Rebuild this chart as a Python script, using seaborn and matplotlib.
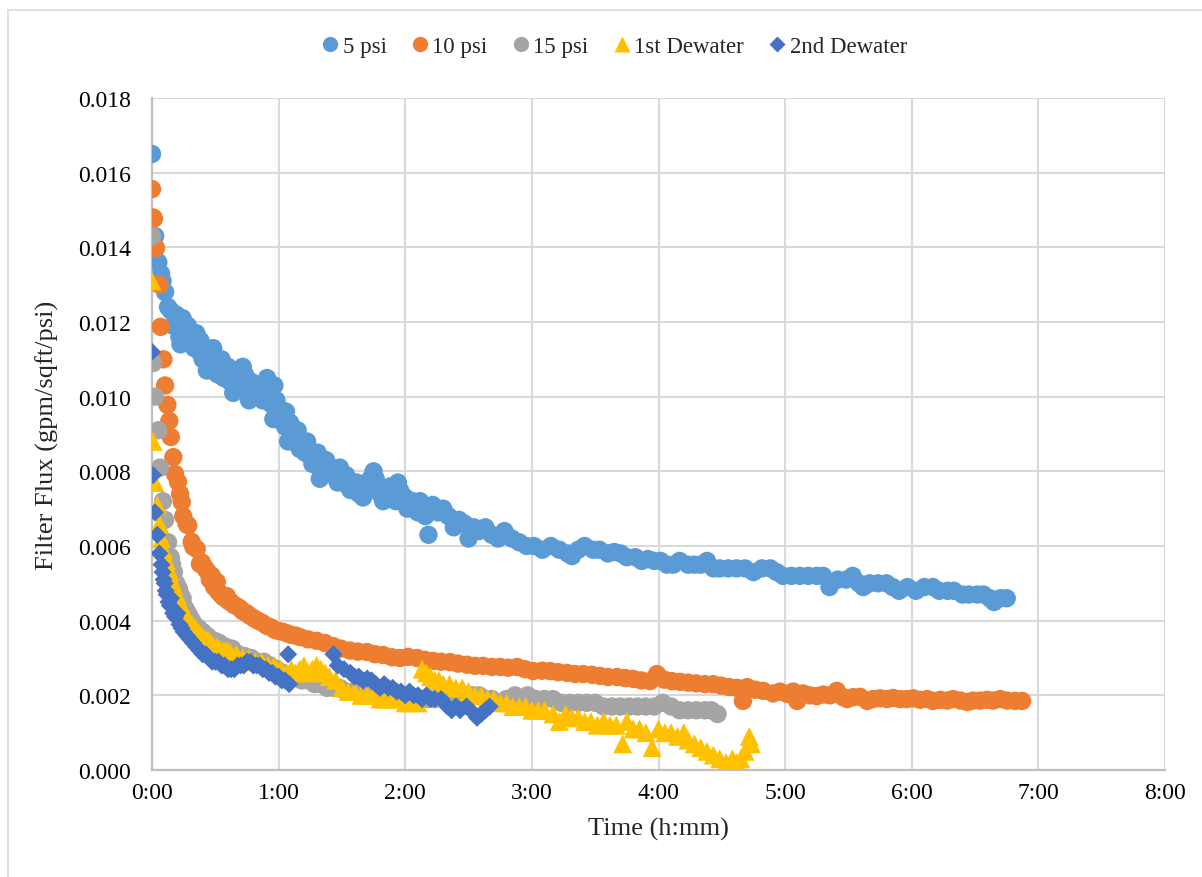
import matplotlib
matplotlib.use("Agg")
import matplotlib.pyplot as plt
import seaborn as sns
import pandas as pd
from matplotlib.ticker import FuncFormatter, MultipleLocator
from matplotlib.lines import Line2D

# ---------------- data (time in minutes, flux in gpm/sqft/psi) ----------------
psi5_t = [0.0, 0.5, 1.5, 3.0, 4.3, 5.0, 6.2, 7.6, 9.0, 10.0, 11.5, 13.0, 13.5, 15.0, 17.0, 19.0,
          22.5, 24.0, 26.0, 28.0, 30.0, 32.0, 34.0, 36.0, 38.5, 40.0, 42.0, 44.0, 46.0, 48.0, 50.0,
          52.5, 54.5, 56.5, 57.5, 59.0, 61.0, 63.0, 64.5, 66.5, 68.5, 70.0, 72.5, 75.0, 77.5, 79.5,
          81.5, 83.5, 86.0, 88.0, 90.5, 93.0, 95.5, 98.0, 100.0, 102.5, 105.0, 107.0, 109.5, 112.0,
          114.5, 116.5, 118.5, 121.0, 123.5, 126.0, 128.0, 131.0, 133.0, 135.5, 138.0, 140.5, 143.0,
          145.5, 148.0, 150.0, 152.5, 155.0, 158.0, 161.0, 164.0, 167.0, 170.5, 174.0, 177.5, 181.0,
          185, 189, 193, 197, 199, 202, 205, 209, 212, 216, 219, 222, 225, 229, 232, 235, 238, 241,
          244, 247, 250, 254, 257, 260, 263, 266, 269, 273, 277, 281, 285, 289, 293, 296, 299, 303,
          307, 311, 315, 318, 321, 325, 329, 332, 335, 337, 340, 344, 348, 351, 354, 358, 362, 366,
          370, 373, 377, 380, 384, 387, 391, 394, 397, 399, 402, 405,
          12, 14.5, 16, 18, 20, 21, 23, 25, 27, 29, 31, 33, 35, 37, 39, 41, 43, 45, 47, 49, 51, 53,
          55, 58, 60, 62, 63.5, 65.5, 67.5, 69, 71, 73.5, 76, 78.5, 80.5, 82.5, 85, 87, 89, 92, 94,
          97, 99, 101, 103.5, 106, 108, 111, 113, 115.5, 117.5, 120, 122, 125, 127, 129.5]
psi5_v = [0.0165, 0.0140, 0.0143, 0.0136, 0.0133, 0.0131, 0.0128, 0.0124, 0.0123, 0.0119, 0.0122,
          0.0116, 0.0114, 0.0118, 0.0119, 0.0115, 0.0112, 0.0110, 0.0107, 0.0111, 0.0109, 0.0107,
          0.0105, 0.0108, 0.0101, 0.0106, 0.0104, 0.0106, 0.0099, 0.0103, 0.0101, 0.0099, 0.0105,
          0.0098, 0.0094, 0.0099, 0.0096, 0.0092, 0.0088, 0.0090, 0.0088, 0.0086, 0.0085, 0.0084,
          0.0082, 0.0078, 0.0082, 0.0080, 0.0079, 0.0077, 0.0078, 0.0076, 0.0077, 0.0074, 0.0073,
          0.0077, 0.0080, 0.0076, 0.0072, 0.0075, 0.0074, 0.0077, 0.0072, 0.0070, 0.0072, 0.0069,
          0.0070, 0.0063, 0.0071, 0.0069, 0.0070, 0.0068, 0.0065, 0.0067, 0.0066, 0.0062, 0.0065,
          0.0064, 0.0065, 0.0063, 0.0062, 0.0064, 0.0062, 0.0061, 0.0060, 0.0060,
          0.0059, 0.0060, 0.0059, 0.0058, 0.00573, 0.0059, 0.0060, 0.0059, 0.0059, 0.0058, 0.00584,
          0.0058, 0.0057, 0.0057, 0.0056, 0.00565, 0.0056, 0.0056, 0.0055, 0.0055, 0.0056, 0.0055,
          0.0055, 0.0055, 0.0056, 0.0054, 0.0054, 0.0054, 0.0054, 0.0054, 0.0053, 0.0054, 0.0054,
          0.0053, 0.0052, 0.0052, 0.0052, 0.0052, 0.0052, 0.0052, 0.0049, 0.0051, 0.0051, 0.0052,
          0.0050, 0.0049, 0.0050, 0.0050, 0.0050, 0.0049, 0.0048, 0.0049, 0.0048, 0.0049, 0.0049,
          0.0048, 0.0048, 0.0048, 0.0047, 0.0047, 0.0047, 0.0047, 0.0046, 0.0045, 0.0046, 0.0046,
          0.0120, 0.0121, 0.0116, 0.0117, 0.0113, 0.0117, 0.0115, 0.0113, 0.0108, 0.0113, 0.0106,
          0.0110, 0.0108, 0.0104, 0.0107, 0.0102, 0.0108, 0.0102, 0.0104, 0.0100, 0.0103, 0.0102,
          0.0100, 0.0103, 0.0097, 0.0094, 0.0096, 0.0093, 0.0089, 0.0091, 0.0087, 0.0088, 0.0082,
          0.0085, 0.0081, 0.0083, 0.0081, 0.0079, 0.0081, 0.0079, 0.0075, 0.0077, 0.0076, 0.0075,
          0.0078, 0.0078, 0.0074, 0.0073, 0.0076, 0.0072, 0.0075, 0.0073, 0.0071, 0.0071, 0.0072,
          0.0068]

psi10_t = [0.0, 0.5, 0.9, 1.9, 3.5, 4.1, 5.4, 6.2, 7.3, 8.2, 8.9, 10.1, 10.9, 12.3, 13.3, 14.1, 14.8,
           16.4, 17.2, 18.8, 19.6, 21.2, 22.7, 24.6, 26.5, 28.4, 30.7, 31.5, 32.7, 35.4, 37.4, 40.1,
           43.1, 46.4, 50.2, 54.4, 58.3, 62.1, 65.9, 70.1, 73.9, 78.0, 82.0, 85.8, 89.6, 93.8, 97.6,
           101.9, 105.7, 109.5, 113.7, 117.5, 121.3, 125.6, 129.4, 133.2, 137.0, 141.2, 145.0, 149.3,
           153.1, 156.9, 161.1, 165.0, 168.7, 173.0, 176.8, 180.6, 184.8, 188.6, 192.4, 196.7, 200.5,
           204.3, 208.5, 212.3, 216.1, 220.4, 224.2, 228.0, 231.8, 236.0, 239.3, 242.7, 246.4, 250.2,
           254.0, 257.8, 262.0, 265.9, 269.7, 273.5, 277.3, 280.0, 282.0, 285.8, 289.6, 294.3, 297.6,
           301.0, 303.8, 305.7, 308.5, 311.8, 315.0, 318.0, 321.3, 324.5, 327.5, 329.4, 332.2, 335.5,
           338.9, 341.7, 345.0, 348.3, 351.2, 354.5, 357.8, 360.7, 364.0, 367.3, 370.1, 373.5, 376.8,
           379.6, 383.0, 386.3, 389.0, 392.4, 395.7, 398.6, 401.9, 405.2, 409.0, 412.3,
           23.6, 25.5, 27.4, 29.5, 34.0, 36.4, 38.8, 41.6, 44.8, 48.3, 52.3, 56.4, 60.2, 64.0, 68.0]
psi10_v = [0.01556, 0.0148, 0.01477, 0.01398, 0.0130, 0.01187, 0.0110, 0.0103, 0.00978, 0.00935,
           0.00892, 0.00838, 0.00793, 0.00772, 0.0074, 0.00718, 0.0068, 0.00659, 0.00655, 0.00611,
           0.00598, 0.00592, 0.00552, 0.00545, 0.0053, 0.0052, 0.00504, 0.00477, 0.0047, 0.00466,
           0.0045, 0.00439, 0.00425, 0.00413, 0.0040, 0.00386, 0.00375, 0.0037, 0.00362, 0.00356,
           0.0035, 0.00346, 0.0034, 0.00332, 0.00325, 0.0032, 0.00317, 0.00316, 0.0031, 0.00308,
           0.00302, 0.0030, 0.00303, 0.0030, 0.00295, 0.00292, 0.0029, 0.00289, 0.00285, 0.00282,
           0.00279, 0.00279, 0.00276, 0.00276, 0.00274, 0.00276, 0.0027, 0.00265, 0.00266, 0.00265,
           0.00262, 0.0026, 0.00257, 0.00257, 0.00255, 0.00252, 0.00249, 0.00249, 0.00246, 0.00244,
           0.0024, 0.00238, 0.00257, 0.00242, 0.00238, 0.00236, 0.00234, 0.00232, 0.0023, 0.0023,
           0.00226, 0.00222, 0.0022, 0.00185, 0.00222, 0.00215, 0.00212, 0.00205, 0.0021, 0.00204,
           0.0021, 0.00185, 0.00205, 0.0020, 0.00198, 0.00202, 0.0020, 0.00212, 0.00195, 0.0019,
           0.00195, 0.00196, 0.00185, 0.0019, 0.00192, 0.0019, 0.00193, 0.0019, 0.0019, 0.00192,
           0.00188, 0.0019, 0.00185, 0.00188, 0.00186, 0.0019, 0.00186, 0.00182, 0.00186, 0.00186,
           0.00188, 0.00186, 0.0019, 0.00186, 0.00185, 0.00185,
           0.00556, 0.00538, 0.00510, 0.00490, 0.00462, 0.00452, 0.00442, 0.00433, 0.00420, 0.00406,
           0.00394, 0.00382, 0.00372, 0.00366, 0.00360]

psi15_t = [0.0, 0.5, 1.4, 3.0, 3.8, 5.2, 6.2, 7.6, 8.9, 10.4, 12.8, 14.5, 16, 18, 20, 22, 24, 26, 28,
           30, 32, 35, 38, 41, 44, 47, 50, 53, 56, 59, 62, 65, 68, 71, 74, 77, 80, 83, 86, 89, 92, 95,
           98, 101, 104, 107, 110, 113, 116, 119, 122, 125, 128, 131, 134, 137, 140, 143, 146, 149,
           152, 155, 158, 161, 165, 168, 172, 175, 178, 182, 186, 190, 194, 198, 202, 206, 210, 214,
           218, 222, 226, 230, 234, 238, 242, 246, 250, 254, 258, 262, 265, 268,
           9.5, 11.5, 13.5, 15, 17, 19, 21, 23, 25, 27, 29, 33.5, 36.5, 39.5, 42.5, 45.5]
psi15_v = [0.0143, 0.0109, 0.0100, 0.0091, 0.0081, 0.0072, 0.0067, 0.0061, 0.0057, 0.0053, 0.00485,
           0.0046, 0.0043, 0.0041, 0.0039, 0.0038, 0.0037, 0.0036, 0.0035, 0.00345, 0.0034, 0.0033,
           0.00325, 0.0031, 0.00305, 0.0030, 0.0029, 0.0029, 0.0028, 0.0027, 0.0026, 0.0025, 0.0025,
           0.0024, 0.0024, 0.0023, 0.0023, 0.0022, 0.0022, 0.0022, 0.0021, 0.0021, 0.0021, 0.0020,
           0.0020, 0.0020, 0.0020, 0.0019, 0.0019, 0.0019, 0.0019, 0.0018, 0.0019, 0.0019, 0.0019,
           0.0020, 0.0020, 0.0019, 0.0019, 0.0020, 0.0020, 0.0020, 0.0019, 0.0019, 0.0018, 0.0019,
           0.0020, 0.0019, 0.0020, 0.0019, 0.0019, 0.0019, 0.0018, 0.0018, 0.0018, 0.0018, 0.0018,
           0.0017, 0.0017, 0.0017, 0.0017, 0.0017, 0.0017, 0.0017, 0.0018, 0.0017, 0.0016, 0.0016,
           0.0016, 0.0016, 0.0016, 0.0015,
           0.0055, 0.0050, 0.0047, 0.0044, 0.0042, 0.0040, 0.0038, 0.0037, 0.0035, 0.0035, 0.0034,
           0.0033, 0.0032, 0.0031, 0.0030, 0.0030]

dew1_t = [0.0, 0.5, 1.4, 2.5, 3.5, 4.5, 5.5, 7, 8.5, 10, 12, 14, 16.5, 19, 22, 25, 28, 31, 34, 37,
          40, 43, 46, 49, 52, 55, 58, 61, 64, 66, 68, 70, 72, 74, 76, 78, 80, 82, 84, 87, 90, 93, 96,
          99, 102, 105, 108, 111, 114, 117, 120, 123, 126, 128, 130, 132, 134, 136, 138, 141, 144,
          147, 150, 153, 156, 159, 162, 165, 168, 171, 174, 177, 180, 183, 186, 190, 193, 196, 199,
          202, 205, 208, 211, 214, 217, 220, 223, 225, 228, 231, 234, 237, 240, 243, 246, 249, 252,
          254, 257, 260, 263, 266, 269, 272, 275, 277, 279, 281, 283, 284,
          6, 7.8, 9.2, 11, 13, 15, 17.5, 20.5, 23.5, 26.5, 29.5, 32.5, 35.5]
dew1_v = [0.0131, 0.0088, 0.0077, 0.0071, 0.0066, 0.0062, 0.0059, 0.0056, 0.0053, 0.0050, 0.0047,
          0.0044, 0.0041, 0.0039, 0.0037, 0.0035, 0.0034, 0.0033, 0.0032, 0.00315, 0.0031, 0.0030,
          0.0030, 0.0029, 0.0029, 0.0028, 0.0028, 0.0027, 0.0026, 0.0027, 0.0026, 0.0027, 0.0028,
          0.0026, 0.0027, 0.0028, 0.0027, 0.0026, 0.0025, 0.0024, 0.0022, 0.0021, 0.0021, 0.0020,
          0.0020, 0.0020, 0.0019, 0.0019, 0.0019, 0.0019, 0.0018, 0.0018, 0.0018, 0.0027, 0.0026,
          0.0025, 0.0024, 0.0024, 0.0023, 0.0023, 0.0022, 0.0022, 0.0021, 0.0020, 0.0020, 0.0019,
          0.0019, 0.0018, 0.0018, 0.0017, 0.0017, 0.0017, 0.0016, 0.0016, 0.0016, 0.0015, 0.0013,
          0.0015, 0.0014, 0.0014, 0.0013, 0.0013, 0.0012, 0.0013, 0.0012, 0.0012, 0.0007, 0.0013,
          0.0011, 0.0011, 0.0010, 0.0006, 0.0011, 0.0010, 0.0010, 0.0009, 0.0010, 0.0008, 0.0007,
          0.0006, 0.0005, 0.0004, 0.0003, 0.0002, 0.0003, 0.0002, 0.0003, 0.0005, 0.0009, 0.0007,
          0.0057, 0.0054, 0.0051, 0.0048, 0.0045, 0.0043, 0.0040, 0.0038, 0.0036, 0.0035, 0.0033,
          0.0032, 0.0032]

dew2_t = [0.0, 0.5, 1.4, 2.5, 3.5, 4.5, 5.5, 6.5, 7.8, 10, 13, 15, 18, 21, 24, 27, 30, 33, 36, 39,
          42, 45, 48, 51, 54, 57, 60, 63, 64.5, 65, 86, 88, 91, 94, 98, 102, 106, 110, 114, 118, 122,
          126, 130, 134, 137, 140, 142, 144, 146, 149, 151, 154, 156, 158, 160,
          5, 6, 7, 8.5, 9, 11, 12, 14, 16.5, 19.5, 22.5, 25.5, 28.5, 31.5, 34.5, 37.5, 40.5, 43.5,
          46.5, 49.5, 52.5, 55.5, 58.5, 61.5, 96, 100, 104, 108, 112, 116, 120, 124, 128, 132]
dew2_v = [0.0112, 0.0079, 0.0069, 0.0063, 0.0058, 0.0055, 0.0051, 0.0048, 0.0045, 0.0042, 0.0039,
          0.0037, 0.0035, 0.0033, 0.0031, 0.0030, 0.0029, 0.0028, 0.0027, 0.0027, 0.0028, 0.0029,
          0.0028, 0.0028, 0.0027, 0.0026, 0.0025, 0.0024, 0.0031, 0.0023, 0.0031, 0.0028, 0.0027,
          0.0026, 0.0025, 0.00245, 0.0023, 0.0023, 0.0022, 0.0021, 0.0021, 0.0020, 0.0020, 0.0019,
          0.0019, 0.0017, 0.0016, 0.0017, 0.0016, 0.0017, 0.0016, 0.0014, 0.0015, 0.0016, 0.0017,
          0.0053, 0.0050, 0.0047, 0.0044, 0.0046, 0.0041, 0.0042, 0.0038, 0.0036, 0.0034, 0.0032,
          0.0031, 0.0029, 0.0029, 0.0028, 0.0027, 0.0028, 0.0028, 0.0029, 0.0028, 0.0027, 0.0026,
          0.0025, 0.0024, 0.0025, 0.0024, 0.0024, 0.0022, 0.0022, 0.0021, 0.0020, 0.0020, 0.0019,
          0.0019]

series_names = ["5 psi", "10 psi", "15 psi", "1st Dewater", "2nd Dewater"]
series_t = [psi5_t, psi10_t, psi15_t, dew1_t, dew2_t]
series_v = [psi5_v, psi10_v, psi15_v, dew1_v, dew2_v]
colors = ["#5B9BD5", "#ED7D31", "#A5A5A5", "#FFC000", "#4472C4"]
markers = ["o", "o", "o", "^", "D"]
sizes = [175, 175, 175, 185, 85]

x_ticks_min = [0, 60, 120, 180, 240, 300, 360, 420, 480]

# ---------------- figure ----------------
sns.set_theme(style="white")
plt.rcParams["font.family"] = ["Liberation Serif", "DejaVu Serif"]

fig = plt.figure(figsize=(12.02, 8.78), dpi=100)
ax = fig.add_axes([152 / 1202, 1 - 771 / 878, (1165 - 152) / 1202, (771 - 99) / 878])

for name, t, v, c, m, s in zip(series_names, series_t, series_v, colors, markers, sizes):
    df = pd.DataFrame({"t": t, "v": v})
    sns.scatterplot(data=df, x="t", y="v", ax=ax, color=c, marker=m, s=s,
                    linewidth=0, edgecolor="none", legend=False, zorder=3)

ax.set_xlim(0, 480)
ax.set_ylim(0, 0.018)
ax.set_xticks(x_ticks_min)
ax.xaxis.set_major_formatter(FuncFormatter(lambda x, p: f"{int(x // 60)}:{int(x % 60):02d}"))
ax.yaxis.set_major_locator(MultipleLocator(0.002))
ax.yaxis.set_major_formatter(FuncFormatter(lambda y, p: f"{y:.3f}"))

ax.grid(True, color="#D9D9D9", linewidth=1.5, zorder=0)
ax.set_axisbelow(True)
for sp in ["top", "right"]:
    ax.spines[sp].set_visible(False)
for sp in ["left", "bottom"]:
    ax.spines[sp].set_color("#BFBFBF")
    ax.spines[sp].set_linewidth(1.6)
ax.tick_params(axis="both", length=0, labelsize=17, colors="black")
ax.tick_params(axis="y", pad=15)
ax.tick_params(axis="x", pad=9)

ax.set_xlabel("Time (h:mm)", fontsize=19, labelpad=10)
ax.set_ylabel("Filter Flux (gpm/sqft/psi)", fontsize=19, labelpad=14)

handles = [Line2D([0], [0], marker=m, color="none", markerfacecolor=c, markeredgecolor="none",
                  markersize=ms)
           for c, m, ms in zip(colors, markers, [11, 11, 11, 12, 8.5])]
fig.legend(handles, series_names, loc="center", bbox_to_anchor=(613 / 1202, 1 - 47 / 878),
           ncol=5, frameon=False, fontsize=16.5, handletextpad=0.05, columnspacing=0.95,
           handlelength=1.0)

# chart-area border (partially visible)
fig.add_artist(Line2D([8 / 1202, 8 / 1202], [0, 1 - 11 / 878], transform=fig.transFigure,
                      color="#D9D9D9", linewidth=1.2))
fig.add_artist(Line2D([8 / 1202, 1], [1 - 11 / 878, 1 - 11 / 878], transform=fig.transFigure,
                      color="#D9D9D9", linewidth=1.2))

fig.savefig("out.png", dpi=100)
